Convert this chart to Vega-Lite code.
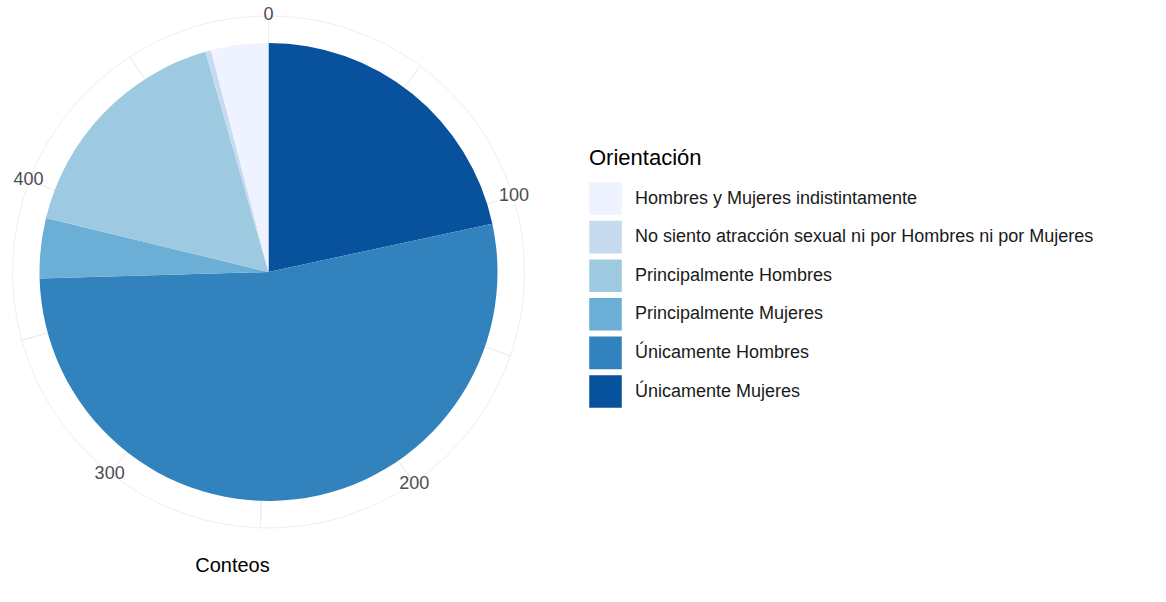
{
  "$schema": "https://vega.github.io/schema/vega-lite/v6.json",
  "width": 537,
  "height": 544,
  "padding": 0,
  "background": "white",
  "config": {"view": {"stroke": null}, "font": "Liberation Sans"},
  "title": {"text": "Conteos", "orient": "bottom", "anchor": "middle", "dx": -36, "offset": 12, "fontSize": 20, "fontWeight": "normal", "color": "#000000", "font": "Liberation Sans"},
  "datasets": {
    "pie": [
      {"Orientacion": "Únicamente Mujeres", "n": 107, "ord": 1},
      {"Orientacion": "Únicamente Hombres", "n": 262, "ord": 2},
      {"Orientacion": "Principalmente Mujeres", "n": 21, "ord": 3},
      {"Orientacion": "Principalmente Hombres", "n": 83, "ord": 4},
      {"Orientacion": "No siento atracción sexual ni por Hombres ni por Mujeres", "n": 2, "ord": 5},
      {"Orientacion": "Hombres y Mujeres indistintamente", "n": 20, "ord": 6}
    ],
    "grid": [
      {"a": 0, "b": 50}, {"a": 50, "b": 100}, {"a": 100, "b": 150}, {"a": 150, "b": 200},
      {"a": 200, "b": 250}, {"a": 250, "b": 300}, {"a": 300, "b": 350}, {"a": 350, "b": 400},
      {"a": 400, "b": 450}, {"a": 450, "b": 495}
    ],
    "ticks": [
      {"v": 0, "label": "0"}, {"v": 100, "label": "100"}, {"v": 200, "label": "200"},
      {"v": 300, "label": "300"}, {"v": 400, "label": "400"}
    ]
  },
  "layer": [
    {
      "data": {"name": "grid"},
      "mark": {"type": "arc", "radius": 256, "fillOpacity": 0, "stroke": "#eeeeee", "strokeWidth": 1},
      "encoding": {
        "theta": {"field": "a", "type": "quantitative", "stack": null, "scale": {"domain": [0, 495]}},
        "theta2": {"field": "b"}
      }
    },
    {
      "data": {"name": "pie"},
      "mark": {"type": "arc", "radius": 229, "stroke": null},
      "encoding": {
        "theta": {"field": "n", "type": "quantitative", "stack": true, "scale": {"domain": [0, 495]}},
        "order": {"field": "ord", "type": "quantitative", "sort": "ascending"},
        "color": {
          "field": "Orientacion",
          "type": "nominal",
          "scale": {
            "domain": ["Hombres y Mujeres indistintamente", "No siento atracción sexual ni por Hombres ni por Mujeres", "Principalmente Hombres", "Principalmente Mujeres", "Únicamente Hombres", "Únicamente Mujeres"],
            "range": ["#eff3ff", "#c6dbef", "#9ecae1", "#6baed6", "#3182bd", "#08519c"]
          },
          "legend": {
            "title": "Orientación",
            "orient": "none",
            "legendX": 589,
            "legendY": 148,
            "titleFontSize": 22,
            "titleFontWeight": "normal",
            "titleColor": "#000000",
            "titleFont": "Liberation Sans",
            "titlePadding": 12,
            "labelFontSize": 18,
            "labelColor": "#1a1a1a",
            "labelFont": "Liberation Sans",
            "labelOffset": 13,
            "labelLimit": 600,
            "symbolType": "square",
            "symbolSize": 1060,
            "symbolStrokeWidth": 0,
            "rowPadding": 5.6
          }
        }
      }
    },
    {
      "data": {"name": "ticks"},
      "mark": {"type": "text", "radius": 257, "fontSize": 18, "color": "#4d4d4d", "font": "Liberation Sans", "align": "center", "baseline": "middle"},
      "encoding": {
        "theta": {"field": "v", "type": "quantitative", "stack": null, "scale": {"domain": [0, 495]}},
        "text": {"field": "label"}
      }
    }
  ]
}
